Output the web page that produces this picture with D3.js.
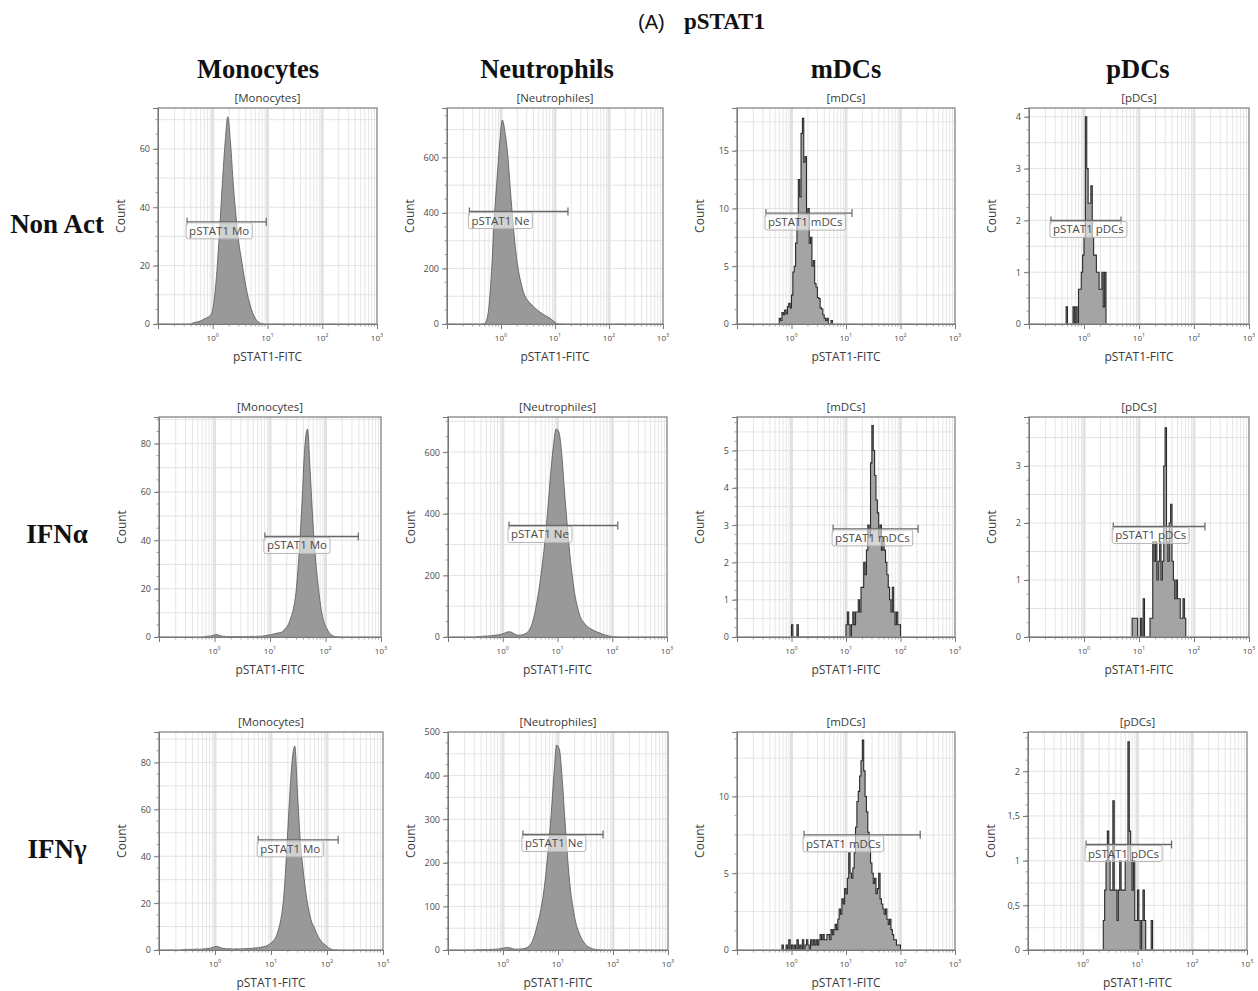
<!DOCTYPE html>
<html>
<head>
<meta charset="utf-8">
<script src="https://cdn.jsdelivr.net/npm/d3@7"></script>
<style>
  body { margin: 0; background: #fff; }
  svg text { font-family: "Open Sans", "DejaVu Sans", sans-serif; }
</style>
</head>
<body>
<div id="chart"></div>
<script>
// ---- data ----
const figurePrefix = "(A)";
const figureTitle = "pSTAT1";
const columnHeaders = ["Monocytes", "Neutrophils", "mDCs", "pDCs"];
const panelTitles = ["[Monocytes]", "[Neutrophiles]", "[mDCs]", "[pDCs]"];
const rowLabels = ["Non Act", "IFNα", "IFNγ"];
const gateNames = ["pSTAT1 Mo", "pSTAT1 Ne", "pSTAT1 mDCs", "pSTAT1 pDCs"];
const xLabel = "pSTAT1-FITC";
const yLabel = "Count";
const xTickExponents = [0, 1, 2, 3];
const xDomain = [0.1, 1000];

const yMax = [[74, 778, 18.7, 4.17], [91, 714, 5.9, 3.86], [93, 500, 14.2, 2.44]];
const yTicks = [
  [[0, 20, 40, 60], [0, 200, 400, 600], [0, 5, 10, 15], [0, 1, 2, 3, 4]],
  [[0, 20, 40, 60, 80], [0, 200, 400, 600], [0, 1, 2, 3, 4, 5], [0, 1, 2, 3]],
  [[0, 20, 40, 60, 80], [0, 100, 200, 300, 400, 500], [0, 5, 10], [0, 0.5, 1, 1.5, 2]]
];
// gate: [low, high, count level]
const gates = [
  [[0.34, 9.5, 35], [0.26, 17.4, 405], [0.34, 12.9, 9.6], [0.25, 4.7, 2.0]],
  [[8.1, 390, 41.6], [1.3, 126, 362], [5.8, 210, 2.9], [3.4, 158, 1.94]],
  [[5.9, 158, 47], [2.3, 66, 265], [1.7, 230, 7.5], [1.15, 42, 1.18]]
];

// smooth histograms: counts per 0.05-decade bin, first bin at the given log10 start
const smoothStep = 0.05;
const monoNonActStart = -0.4;
const monoNonAct = [0.3, 0.5, 0.8, 1, 1.5, 2, 2.5, 3.5, 8, 18, 32, 48, 62, 71, 62, 48, 37, 28, 22, 16, 11, 7, 4, 2, 0.8, 0.3];
const neutroNonActStart = -0.35;
const neutroNonAct = [0, 10, 60, 190, 380, 520, 650, 735, 690, 610, 480, 360, 260, 190, 145, 110, 90, 78, 68, 58, 50, 42, 36, 30, 25, 18, 10, 3, 0];
const monoIFNaStart = -0.2;
const monoIFNa = [0.2, 0.3, 0.4, 0.6, 1.0, 0.8, 0.4, 0.3, 0.2, 0.2, 0.2, 0.1, 0.2, 0.2, 0.1, 0.2, 0.2, 0.3, 0.2, 0.3,
  0.3, 0.4, 0.6, 0.8, 1.0, 1.3, 1.6, 1.8, 2.2, 3.5, 5, 8, 12, 20, 35, 55, 78, 86, 68, 47, 31, 20, 11, 6, 3.5, 1.5, 0.6, 0.2, 0];
const neutroIFNaStart = -0.5;
const neutroIFNa = [1, 2, 2, 3, 3, 4, 5, 6, 7, 9, 12, 16, 17, 14, 9, 6, 6, 8, 12, 20, 38, 70, 115, 170, 240, 320, 420, 530, 620, 675,
  665, 600, 480, 370, 270, 190, 130, 90, 62, 48, 38, 30, 25, 20, 16, 13, 9, 6, 4, 2, 1, 0];
const monoIFNgStart = -0.6;
const monoIFNg = [0.2, 0.3, 0.2, 0.3, 0.3, 0.4, 0.3, 0.4, 0.5, 0.6, 0.8, 1.2, 1.6, 1.2, 0.8, 0.6, 0.5, 0.5, 0.4, 0.5, 0.4, 0.5, 0.5,
  0.6, 0.6, 0.8, 0.9, 1.0, 1.2, 1.4, 1.8, 2.5, 3.5, 5, 8, 13, 22, 40, 62, 80, 87, 66, 46, 34, 24, 17, 12, 9.5, 6.5, 4.5, 3, 2, 1, 0.4, 0];
const neutroIFNgStart = -0.5;
const neutroIFNg = [0.5, 0.5, 1, 1, 1, 1.5, 1.5, 2, 2.5, 3.5, 5, 6, 5, 3, 2, 2, 2.5, 3, 5, 9, 18, 35, 58, 85, 120, 170, 235, 310, 400, 470,
  460, 395, 300, 210, 140, 95, 62, 42, 27, 17, 10, 6, 3, 1.5, 0.5, 0];

// spiky histograms: [log10 bin start, count], bins 0.025 decade wide
const spikyStep = 0.025;
const mDCsNonAct = [[-0.225, 0.5], [-0.2, 0.3], [-0.175, 1], [-0.15, 0.8], [-0.125, 1.2], [-0.1, 0.9], [-0.075, 1.5], [-0.05, 1.8],
  [-0.025, 1.4], [0, 2.5], [0.025, 4.5], [0.05, 5], [0.075, 7], [0.1, 9], [0.125, 12.5], [0.15, 11], [0.175, 16.5], [0.2, 17.8],
  [0.225, 14], [0.25, 14.5], [0.275, 9.5], [0.3, 10], [0.325, 7], [0.35, 7.5], [0.375, 5], [0.4, 5.5], [0.425, 3.5], [0.45, 3.2],
  [0.475, 2.3], [0.5, 2.2], [0.525, 1.4], [0.55, 1.3], [0.575, 0.8], [0.6, 0.5], [0.625, 0.3], [0.65, 0.5], [0.725, 0.3]];
const pDCsNonAct = [[-0.325, 0.33], [-0.2, 0.33], [-0.15, 0.33], [-0.1, 0.67], [-0.075, 0.67], [-0.05, 1], [-0.025, 1.33], [0, 1.67],
  [0.025, 4], [0.05, 3], [0.075, 2.33], [0.1, 2.33], [0.125, 2.67], [0.15, 1.67], [0.175, 1.33], [0.2, 1.33], [0.225, 1], [0.25, 1],
  [0.275, 0.67], [0.3, 0.67], [0.325, 1], [0.35, 0.33], [0.375, 1]];
const mDCsIFNa = [[0, 0.33], [0.1, 0.33], [1.0, 0.33], [1.025, 0.67], [1.05, 0.33], [1.1, 0.33], [1.125, 0.67], [1.15, 0.33],
  [1.175, 0.67], [1.2, 0.67], [1.225, 1], [1.25, 0.67], [1.275, 1.33], [1.3, 1.33], [1.325, 2], [1.35, 1.67], [1.375, 2.33], [1.4, 3],
  [1.425, 2.67], [1.45, 4.67], [1.475, 5.67], [1.5, 5], [1.525, 4.33], [1.55, 3.67], [1.575, 3.33], [1.6, 2.67], [1.625, 3],
  [1.65, 2.33], [1.675, 2.67], [1.7, 2.33], [1.725, 2], [1.75, 1.67], [1.775, 1.33], [1.8, 1], [1.825, 0.67], [1.85, 1.33],
  [1.875, 0.67], [1.9, 0.33], [1.925, 0.67], [1.95, 0.33], [1.975, 0.33]];
const pDCsIFNa = [[0.875, 0.33], [0.9, 0.33], [0.925, 0.33], [0.95, 0.33], [1.025, 0.33], [1.075, 0.67], [1.2, 0.33], [1.225, 0.33],
  [1.25, 1.67], [1.275, 1.33], [1.3, 1.67], [1.325, 1], [1.35, 1.33], [1.375, 1.67], [1.4, 1], [1.425, 1.33], [1.45, 3], [1.475, 3.67],
  [1.5, 1.67], [1.525, 1.33], [1.55, 2], [1.575, 2.33], [1.6, 1.33], [1.625, 1], [1.65, 0.67], [1.675, 1], [1.7, 0.67], [1.725, 0.67],
  [1.75, 0.33], [1.775, 0.33], [1.8, 0.67], [1.825, 0.33]];
const mDCsIFNg = [[-0.175, 0.33], [-0.1, 0.33], [-0.05, 0.67], [0, 0.33], [0.05, 0.33], [0.1, 0.67], [0.15, 0.33], [0.2, 0.67],
  [0.25, 0.33], [0.275, 0.67], [0.3, 0.33], [0.35, 0.67], [0.375, 0.33], [0.4, 0.67], [0.425, 0.33], [0.45, 0.67], [0.475, 0.33],
  [0.5, 0.67], [0.525, 1], [0.55, 0.67], [0.575, 1], [0.6, 0.67], [0.625, 0.67], [0.65, 1], [0.675, 1], [0.7, 0.67], [0.725, 1.33],
  [0.75, 1], [0.775, 1.33], [0.8, 1.67], [0.825, 1.33], [0.85, 2], [0.875, 2.67], [0.9, 2.33], [0.925, 3.33], [0.95, 3], [0.975, 4],
  [1.0, 3.67], [1.025, 4.67], [1.05, 6.33], [1.075, 5], [1.1, 4.67], [1.125, 5.33], [1.15, 6.33], [1.175, 8], [1.2, 9.67],
  [1.225, 10.33], [1.25, 11.33], [1.275, 12.33], [1.3, 13.67], [1.325, 11.67], [1.35, 10], [1.375, 9], [1.4, 7.67], [1.425, 6.67],
  [1.45, 5.67], [1.475, 5], [1.5, 4.33], [1.525, 4.67], [1.55, 3.67], [1.575, 4], [1.6, 5], [1.625, 3.33], [1.65, 3], [1.675, 2.67],
  [1.7, 2.33], [1.725, 2.67], [1.75, 2], [1.775, 1.67], [1.8, 2], [1.825, 1.33], [1.85, 1], [1.875, 0.67], [1.9, 0.67], [1.925, 0.33],
  [1.95, 0.33], [1.975, 0.33]];
const pDCsIFNg = [[0.375, 0.33], [0.4, 0.67], [0.425, 1], [0.45, 1.33], [0.475, 1], [0.5, 0.67], [0.525, 0.67], [0.55, 1.67],
  [0.575, 0.67], [0.6, 0.67], [0.625, 0.33], [0.65, 0.67], [0.675, 1], [0.7, 0.67], [0.725, 0.67], [0.75, 0.67], [0.775, 1], [0.8, 1],
  [0.825, 2.33], [0.85, 1.33], [0.875, 1], [0.9, 0.67], [0.925, 1], [0.95, 0.33], [0.975, 0.33], [1.0, 0.67], [1.025, 0.33],
  [1.075, 0.33], [1.1, 0.67], [1.125, 0.33], [1.25, 0.33]];

// ---- layout ----
const boxLefts = [[158, 447, 737, 1029], [159, 448, 737, 1029], [159, 448, 737, 1028]];
const boxRights = [[377, 663, 955, 1249], [381, 667, 955, 1249], [383, 668, 955, 1247]];
const boxTops = [108, 417, 732];
const boxBottoms = [324, 637, 950];
const headerX = [258, 547, 846, 1138];
const rowLabelY = [233, 543, 858];

// table of histograms per row/column
const histograms = [
  [{ smooth: true, start: monoNonActStart, counts: monoNonAct }, { smooth: true, start: neutroNonActStart, counts: neutroNonAct },
   { smooth: false, pairs: mDCsNonAct }, { smooth: false, pairs: pDCsNonAct }],
  [{ smooth: true, start: monoIFNaStart, counts: monoIFNa }, { smooth: true, start: neutroIFNaStart, counts: neutroIFNa },
   { smooth: false, pairs: mDCsIFNa }, { smooth: false, pairs: pDCsIFNa }],
  [{ smooth: true, start: monoIFNgStart, counts: monoIFNg }, { smooth: true, start: neutroIFNgStart, counts: neutroIFNg },
   { smooth: false, pairs: mDCsIFNg }, { smooth: false, pairs: pDCsIFNg }]
];

const serif = "Liberation Serif, Times New Roman, serif";

const svg = d3.select("#chart").append("svg")
  .attr("width", 1258).attr("height", 991)
  .style("background", "#fff");

// figure title
svg.append("text").attr("x", 638).attr("y", 29)
  .style("font-family", "Liberation Sans, Arial, sans-serif").attr("font-size", 20).attr("fill", "#111")
  .text(figurePrefix);
svg.append("text").attr("x", 684).attr("y", 29)
  .style("font-family", serif).attr("font-weight", "bold").attr("font-size", 23).attr("fill", "#111")
  .text(figureTitle);

// column headers
svg.selectAll(".colhead").data(columnHeaders).enter().append("text")
  .attr("class", "colhead")
  .attr("x", (d, i) => headerX[i]).attr("y", 78)
  .attr("text-anchor", "middle")
  .style("font-family", serif)
  .attr("font-weight", "bold").attr("font-size", 26.5).attr("fill", "#111")
  .text(d => d);

// row labels
svg.selectAll(".rowlab").data(rowLabels).enter().append("text")
  .attr("class", "rowlab")
  .attr("x", 57).attr("y", (d, i) => rowLabelY[i])
  .attr("text-anchor", "middle")
  .style("font-family", serif)
  .attr("font-weight", "bold").attr("font-size", 27).attr("fill", "#111")
  .text(d => d);

const fmtY = v => String(v).replace(".", ",");
const gridGrey = "#e0e0e0";
const textGrey = "#4a4a4a";

histograms.forEach((row, r) => {
  row.forEach((hist, c) => {
    const left = boxLefts[r][c], right = boxRights[r][c], top = boxTops[r], bottom = boxBottoms[r];
    const x = d3.scaleLog().domain(xDomain).range([left, right]);
    const y = d3.scaleLinear().domain([0, yMax[r][c]]).range([bottom, top]);
    const ticks = yTicks[r][c];
    const tickStep = ticks[1] - ticks[0];
    const g = svg.append("g");
    const clipId = "clip" + r + c;
    g.append("clipPath").attr("id", clipId).append("rect")
      .attr("x", left).attr("y", top).attr("width", right - left).attr("height", bottom - top);

    // vertical grid: minor log lines then broad decade lines
    const minors = [];
    for (let e = -1; e < 3; e++) for (let m = 2; m <= 9; m++) minors.push(m * Math.pow(10, e));
    g.selectAll(".vminor").data(minors).enter().append("line")
      .attr("x1", d => x(d)).attr("x2", d => x(d)).attr("y1", top).attr("y2", bottom)
      .attr("stroke", gridGrey).attr("stroke-width", 0.8);
    g.selectAll(".vmajor").data([1, 10, 100]).enter().append("line")
      .attr("x1", d => x(d)).attr("x2", d => x(d)).attr("y1", top).attr("y2", bottom)
      .attr("stroke", "#e2e2e2").attr("stroke-width", 3);

    // horizontal grid at half steps
    const hLines = d3.range(tickStep / 2, yMax[r][c], tickStep / 2);
    g.selectAll(".hgrid").data(hLines).enter().append("line")
      .attr("x1", left).attr("x2", right).attr("y1", d => y(d)).attr("y2", d => y(d))
      .attr("stroke", gridGrey).attr("stroke-width", 0.9);

    // histogram points
    let pts;
    if (hist.smooth) {
      pts = hist.counts.map((v, i) => [Math.pow(10, hist.start + (i + 0.5) * smoothStep), v]);
      pts.unshift([Math.pow(10, hist.start), 0]);
      pts.push([Math.pow(10, hist.start + (hist.counts.length + 0.5) * smoothStep), 0]);
    } else {
      const lo = d3.min(hist.pairs, d => d[0]), hi = d3.max(hist.pairs, d => d[0]);
      const n = Math.round((hi - lo) / spikyStep) + 1;
      const dense = new Array(n).fill(0);
      hist.pairs.forEach(p => { dense[Math.round((p[0] - lo) / spikyStep)] = p[1]; });
      pts = [[Math.pow(10, lo), 0]];
      dense.forEach((v, i) => pts.push([Math.pow(10, lo + i * spikyStep), v]));
      pts.push([Math.pow(10, lo + n * spikyStep), 0]);
    }
    const curve = hist.smooth ? d3.curveMonotoneX : d3.curveStepAfter;
    const area = d3.area().curve(curve).x(d => x(d[0])).y0(bottom).y1(d => y(d[1]));
    const line = d3.line().curve(curve).x(d => x(d[0])).y(d => y(d[1]));
    const hg = g.append("g").attr("clip-path", "url(#" + clipId + ")");
    hg.append("path").datum(pts).attr("d", area).attr("fill", hist.smooth ? "#999999" : "#a4a4a4");
    hg.append("path").datum(pts).attr("d", line).attr("fill", "none")
      .attr("stroke", hist.smooth ? "#555" : "#2a2a2a").attr("stroke-width", hist.smooth ? 0.8 : 1.1);

    // frame
    g.append("rect").attr("x", left).attr("y", top).attr("width", right - left).attr("height", bottom - top)
      .attr("fill", "none").attr("stroke", "#8e8e8e").attr("stroke-width", 1.4);

    // y axis
    const yAxis = d3.axisLeft(y).tickValues(ticks).tickSize(5).tickPadding(3).tickFormat(fmtY);
    const ya = g.append("g").attr("transform", "translate(" + left + ",0)").call(yAxis);
    ya.select(".domain").attr("stroke", "#777");
    ya.selectAll("line").attr("stroke", "#777");
    ya.selectAll("text").attr("font-size", 9).attr("fill", textGrey).style("font-family", "Open Sans, sans-serif");
    const yMinor = d3.range(0, yMax[r][c], tickStep / 4);
    g.selectAll(".yminor").data(yMinor).enter().append("line")
      .attr("x1", left - 2.5).attr("x2", left).attr("y1", d => y(d)).attr("y2", d => y(d))
      .attr("stroke", "#888").attr("stroke-width", 0.8);

    // x axis
    const xAxis = d3.axisBottom(x).tickValues(xTickExponents.map(e => Math.pow(10, e))).tickSize(5).tickFormat("");
    const xa = g.append("g").attr("transform", "translate(0," + bottom + ")").call(xAxis);
    xa.select(".domain").attr("stroke", "#777");
    xa.selectAll("line").attr("stroke", "#777");
    g.selectAll(".xminor").data(minors).enter().append("line")
      .attr("x1", d => x(d)).attr("x2", d => x(d)).attr("y1", bottom).attr("y2", bottom + 2.5)
      .attr("stroke", "#888").attr("stroke-width", 0.8);
    const xl = g.selectAll(".xlab").data(xTickExponents).enter().append("text")
      .attr("x", d => x(Math.pow(10, d))).attr("y", bottom + 17)
      .attr("text-anchor", "middle").attr("font-size", 8).attr("fill", textGrey);
    xl.append("tspan").text("10");
    xl.append("tspan").attr("dy", -4).attr("font-size", 5.5).text(d => d);

    // labels
    g.append("text").attr("x", (left + right) / 2).attr("y", top - 6).attr("text-anchor", "middle")
      .attr("font-size", 11.5).attr("fill", "#3a3a3a").text(panelTitles[c]);
    g.append("text").attr("x", (left + right) / 2).attr("y", bottom + 37).attr("text-anchor", "middle")
      .attr("font-size", 12).attr("fill", "#3a3a3a").text(xLabel);
    g.append("text").attr("transform", "translate(" + (left - 33) + "," + ((top + bottom) / 2) + ") rotate(-90)")
      .attr("text-anchor", "middle").attr("font-size", 12).attr("fill", "#3a3a3a").text(yLabel);

    // gate
    const gate = gates[r][c];
    const gx0 = x(gate[0]), gx1 = x(gate[1]), gy = y(gate[2]);
    g.append("line").attr("x1", gx0).attr("x2", gx1).attr("y1", gy).attr("y2", gy)
      .attr("stroke", "#666").attr("stroke-width", 1.4);
    [gx0, gx1].forEach(px => g.append("line").attr("x1", px).attr("x2", px).attr("y1", gy - 4).attr("y2", gy + 4)
      .attr("stroke", "#666").attr("stroke-width", 1.2));
    const lab = g.append("g");
    const lt = lab.append("text").attr("x", gx0 + 2).attr("y", gy + 13).attr("font-size", 11.5)
      .attr("fill", "#4a4a4a").text(gateNames[c]);
    const tw = lt.node().getComputedTextLength();
    lab.insert("rect", "text").attr("x", gx0 - 1).attr("y", gy + 1).attr("width", tw + 6).attr("height", 16)
      .attr("rx", 2).attr("fill", "rgba(255,255,255,0.55)").attr("stroke", "#b5b5b5").attr("stroke-width", 1);
  });
});
</script>
</body>
</html>
